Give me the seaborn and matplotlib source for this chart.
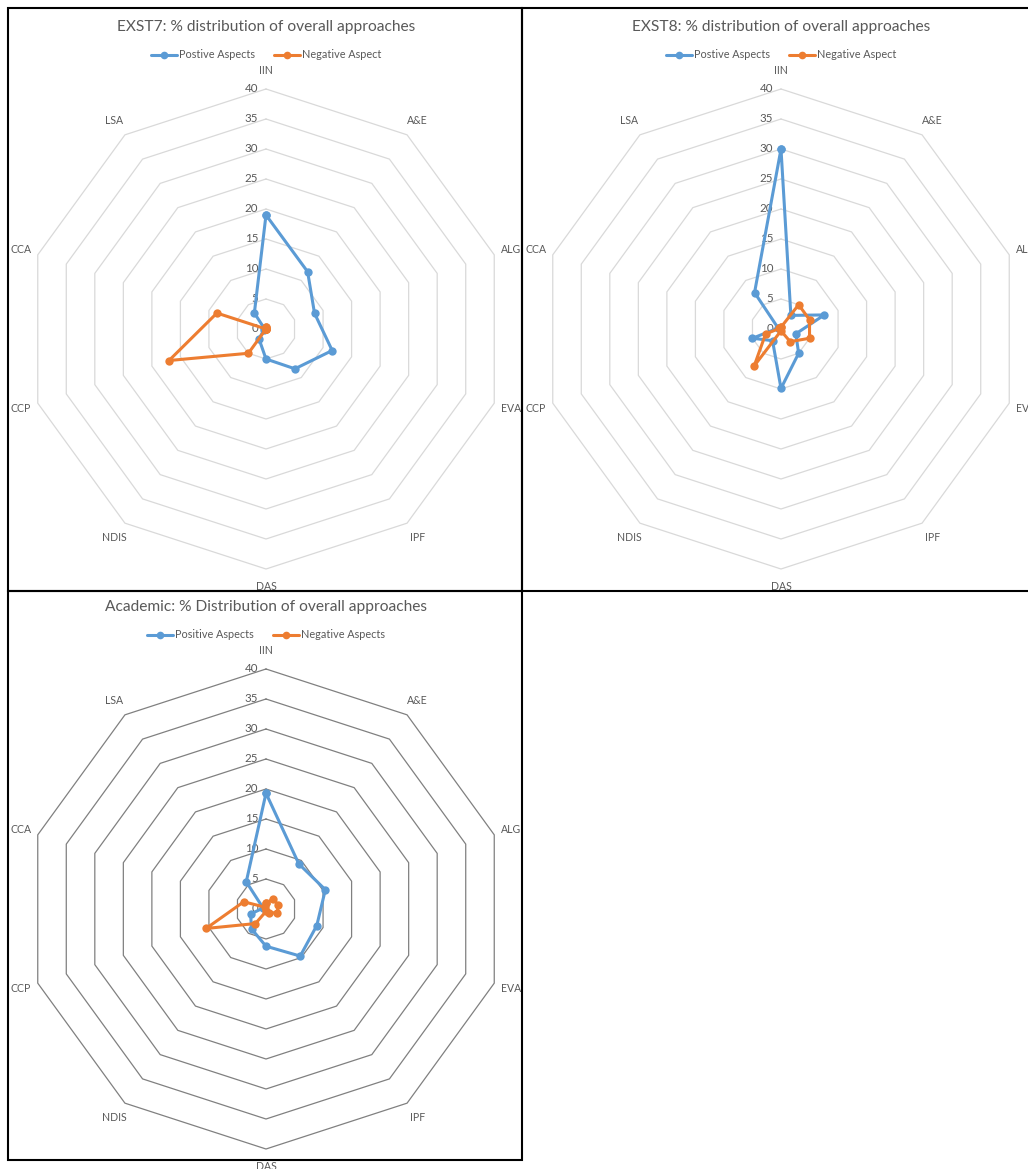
import numpy as np
import matplotlib
matplotlib.use("Agg")
import matplotlib.pyplot as plt
import seaborn as sns
from matplotlib.lines import Line2D
from matplotlib.patches import Rectangle

# -----------------------------
# Data (% distribution)
# -----------------------------
categories = ["IIN", "A&E", "ALG", "EVA", "IPF", "DAS", "NDIS", "CCP", "CCA", "LSA"]
ticks = [0, 5, 10, 15, 20, 25, 30, 35, 40]

exst7_pos = [19.0, 11.8, 8.5, 11.6, 8.2, 5.0, 2.0, 0.3, 0.3, 3.3]
exst7_neg = [0.3, 0.0, 0.0, 0.0, 0.0, 0.0, 5.0, 17.0, 8.6, 0.0]

exst8_pos = [30.0, 2.8, 7.6, 2.6, 5.0, 9.9, 2.4, 5.0, 0.5, 7.5]
exst8_neg = [0.3, 5.0, 5.0, 5.0, 2.6, 0.3, 7.6, 2.7, 0.3, 0.3]

academic_pos = [19.3, 9.3, 10.4, 8.9, 9.7, 6.2, 4.1, 2.7, 0.5, 5.6]
academic_neg = [1.0, 2.1, 2.1, 2.0, 0.8, 0.4, 3.0, 10.5, 3.9, 0.4]

sns.set_style("white")
plt.rcParams['font.family'] = ['Lato', 'DejaVu Sans']

W, H = 1028, 1169
BLUE = "#5B9BD5"
ORANGE = "#ED7D31"
TXT = "#595959"

fig = plt.figure(figsize=(W / 100, H / 100), dpi=100)
fig.patch.set_facecolor("white")

angles = np.deg2rad(np.arange(len(categories)) * 360 / len(categories))
PX = 6.0  # pixels per unit
HALF = 48  # half-width of radar axes in data units


def radar(cx, cy, title, pos, neg, pos_label, neg_label, grid_color):
    half_px = HALF * PX
    ax = fig.add_axes([(cx - half_px) / W, 1 - (cy + half_px) / H,
                       2 * half_px / W, 2 * half_px / H])
    ax.set_xlim(-HALF, HALF)
    ax.set_ylim(-HALF, HALF)
    ax.axis("off")

    # decagon grid rings
    for r in ticks[1:]:
        gx = np.append(r * np.sin(angles), 0)
        gy = np.append(r * np.cos(angles), r)
        ax.plot(gx, gy, color=grid_color, lw=0.9, zorder=1)

    # value labels along the vertical axis
    for t in ticks:
        ax.text(-1.3, t, str(t), ha="right", va="center", fontsize=8.3,
                color=TXT)

    # category labels
    for a, c in zip(angles, categories):
        ax.text(43.0 * np.sin(a), 43.0 * np.cos(a), c, ha="center",
                va="center", fontsize=7.6, color=TXT, clip_on=False)

    for vals, col in [(pos, BLUE), (neg, ORANGE)]:
        v = np.array(vals + vals[:1])
        a = np.append(angles, angles[0])
        sns.lineplot(x=v * np.sin(a), y=v * np.cos(a), sort=False,
                     estimator=None, color=col, lw=2.2, marker="o",
                     markersize=6, markeredgewidth=0, ax=ax, zorder=3)

    fig.text(cx / W, 1 - (cy - 302) / H, title, ha="center", va="center",
             fontsize=11.2, color=TXT)

    handles = [Line2D([], [], color=BLUE, lw=2.2, marker="o", markersize=5.5,
                      markeredgewidth=0),
               Line2D([], [], color=ORANGE, lw=2.2, marker="o", markersize=5.5,
                      markeredgewidth=0)]
    fig.legend(handles, [pos_label, neg_label], loc="center",
               bbox_to_anchor=(cx / W, 1 - (cy - 274) / H), ncol=2,
               frameon=False, fontsize=7.8, labelcolor=TXT,
               handlelength=2.4, handletextpad=0.15, columnspacing=1.8)


radar(266, 329, "EXST7: % distribution of overall approaches",
      exst7_pos, exst7_neg, "Postive Aspects", "Negative Aspect", "#D9D9D9")
radar(781, 329, "EXST8: % distribution of overall approaches",
      exst8_pos, exst8_neg, "Postive Aspects", "Negative Aspect", "#D9D9D9")
radar(266, 909, "Academic: % Distribution of overall approaches",
      academic_pos, academic_neg, "Positive Aspects", "Negative Aspects",
      "#808080")

# panel borders
for x0, y0, x1, y1 in [(8, 8, 522, 591), (522, 8, 1040, 591),
                       (8, 591, 522, 1160)]:
    fig.add_artist(Rectangle((x0 / W, 1 - y1 / H), (x1 - x0) / W,
                             (y1 - y0) / H, transform=fig.transFigure,
                             fill=False, ec="black", lw=1.5))

fig.savefig("out.png", dpi=100)
